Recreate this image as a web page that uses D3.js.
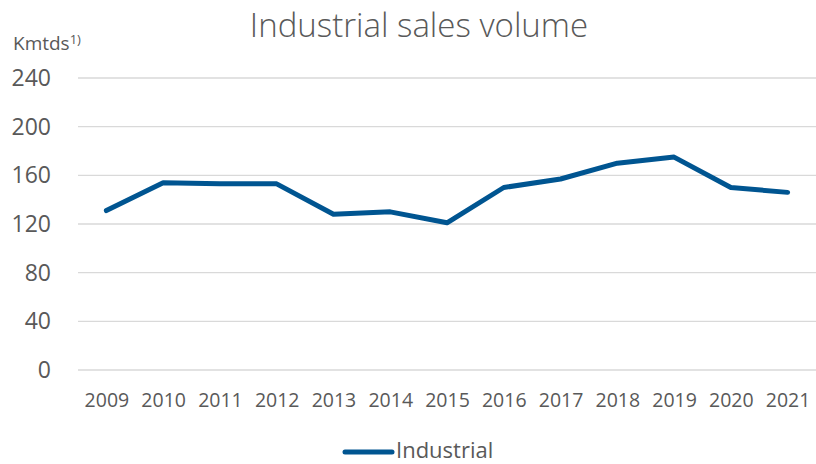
<!DOCTYPE html>
<html>
<head>
<meta charset="utf-8">
<script src="https://cdn.jsdelivr.net/npm/d3@7"></script>
<style>
  body { margin: 0; background: #fff; }
  text { font-family: "Open Sans", "Noto Sans", sans-serif; fill: #595959; }
</style>
</head>
<body>
<div id="chart"></div>
<script>
// data
var years = ["2009","2010","2011","2012","2013","2014","2015","2016","2017","2018","2019","2020","2021"];
var industrial = [131, 154, 153, 153, 128, 130, 121, 150, 157, 170, 175, 150, 146];
var yTicks = [0, 40, 80, 120, 160, 200, 240];

var W = 816, H = 464;
var margin = {top: 78, right: 0, bottom: 94, left: 78};
var width = W - margin.left - margin.right,
    height = H - margin.top - margin.bottom;

var svg = d3.select("#chart")
  .append("svg")
    .attr("width", W)
    .attr("height", H);

var g = svg.append("g")
    .attr("transform", "translate(" + margin.left + "," + margin.top + ")");

var x = d3.scalePoint()
    .domain(years)
    .range([0, width])
    .padding(0.5);

var y = d3.scaleLinear()
    .domain([0, 240])
    .range([height, 0]);

// gridlines
g.selectAll(".grid")
  .data(yTicks)
  .enter()
  .append("line")
    .attr("x1", 0)
    .attr("x2", width)
    .attr("y1", function(d){ return y(d) })
    .attr("y2", function(d){ return y(d) })
    .attr("stroke", "#d9d9d9")
    .attr("stroke-width", 1.3);

// y labels
var yAxis = g.append("g")
  .call(d3.axisLeft(y).tickValues(yTicks).tickSize(0).tickPadding(27));
yAxis.select(".domain").remove();
yAxis.selectAll("text")
  .style("font-size", "23px")
  .attr("fill", "#595959");

// x labels
var xAxis = g.append("g")
  .attr("transform", "translate(0," + height + ")")
  .call(d3.axisBottom(x).tickSize(0).tickPadding(23));
xAxis.select(".domain").remove();
xAxis.selectAll("text")
  .style("font-size", "19.5px")
  .attr("fill", "#595959");

// line
var line = d3.line()
  .x(function(d, i){ return x(years[i]) })
  .y(function(d){ return y(d) });

g.append("path")
  .datum(industrial)
  .attr("d", line)
  .attr("fill", "none")
  .attr("stroke", "#005591")
  .attr("stroke-width", 5)
  .attr("stroke-linecap", "round")
  .attr("stroke-linejoin", "round");

// title
svg.append("text")
  .attr("x", 419)
  .attr("y", 37)
  .attr("text-anchor", "middle")
  .style("font-size", "33px")
  .style("font-weight", 300)
  .text("Industrial sales volume");

// unit label
var unit = svg.append("text")
  .attr("x", 13)
  .attr("y", 50)
  .style("font-size", "19px");
unit.append("tspan").text("Kmtds");
unit.append("tspan").attr("dy", -6).style("font-size", "13px").text("1)");

// legend
var lg = svg.append("g").attr("transform", "translate(345,452)");
lg.append("line")
  .attr("x1", 0).attr("x2", 47)
  .attr("stroke", "#005591")
  .attr("stroke-width", 5)
  .attr("stroke-linecap", "round");
lg.append("text")
  .attr("x", 51)
  .attr("y", 6)
  .style("font-size", "22px")
  .text("Industrial");
</script>
</body>
</html>
